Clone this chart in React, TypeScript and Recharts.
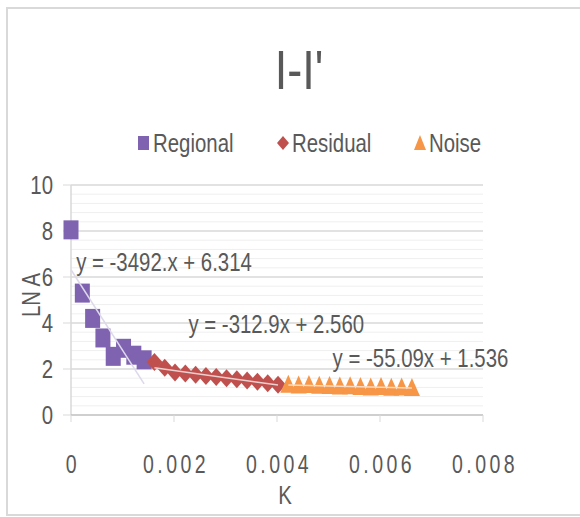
import React from "react";
import {
  ScatterChart,
  Scatter,
  XAxis,
  YAxis,
  ReferenceLine,
} from "recharts";

// ---- data -------------------------------------------------------------
const K_REGIONAL = [0, 0.00022, 0.00042, 0.00062, 0.00082, 0.00102, 0.00122, 0.00142];
const LNA_REGIONAL = [8.05, 5.3, 4.2, 3.35, 2.55, 2.9, 2.6, 2.4];

const K_RESIDUAL = [
  0.00162, 0.00182, 0.00202, 0.00222, 0.00242, 0.00262, 0.00282, 0.00302,
  0.00322, 0.00342, 0.00362, 0.00382, 0.00402,
];
const LNA_RESIDUAL = [2.3, 2.05, 1.85, 1.8, 1.75, 1.7, 1.65, 1.6, 1.55, 1.5, 1.45, 1.38, 1.32];

const K_NOISE = [
  0.00422, 0.00442, 0.00462, 0.00482, 0.00502, 0.00522, 0.00542, 0.00562,
  0.00582, 0.00602, 0.00622, 0.00642, 0.00662,
];
const LNA_NOISE = [1.32, 1.28, 1.3, 1.27, 1.26, 1.24, 1.25, 1.22, 1.2, 1.22, 1.18, 1.2, 1.17];

// linear trendlines y = slope * x + intercept
const TREND_SLOPES = [-3492, -312.9, -55.09];
const TREND_INTERCEPTS = [6.314, 2.56, 1.536];
const EQUATION_TEXT = ["y = -3492.x + 6.314", "y = -312.9x + 2.560", "y = -55.09x + 1.536"];
// anchor (left edge, vertical centre) of each equation, in data units
const EQUATION_K = [0.0001, 0.00228, 0.00508];
const EQUATION_LNA = [6.65, 3.96, 2.48];

const SERIES_NAMES = ["Regional", "Residual", "Noise"];
const SERIES_COLORS = ["#7f63b1", "#c0504d", "#f79646"];
const TREND_COLORS = ["#ddd8ea", "#ead0cf", "#fbdcc4"];

const X_TICKS = [0, 0.002, 0.004, 0.006, 0.008];
const Y_TICKS = [0, 2, 4, 6, 8, 10];
const Y_MINOR = [0.4, 0.8, 1.2, 1.6, 2.4, 2.8, 3.2, 3.6, 4.4, 4.8, 5.2, 5.6, 6.4, 6.8, 7.2, 7.6, 8.4, 8.8, 9.2, 9.6];

// ---- helpers ----------------------------------------------------------
const FONT = '"Liberation Sans", Arial, sans-serif';
const TEXT = "#595959";
const SQUEEZE = 0.85; // horizontal compression for the narrow lettering
const STRETCH = 1.1; // slight vertical stretch of the lettering

const zip = (xs: number[], ys: number[]) => xs.map((x, i) => ({ x, y: ys[i] }));

const regional = zip(K_REGIONAL, LNA_REGIONAL);
const residual = zip(K_RESIDUAL, LNA_RESIDUAL);
const noise = zip(K_NOISE, LNA_NOISE);
const seriesKs = [K_REGIONAL, K_RESIDUAL, K_NOISE];

const trendData = seriesKs.map((ks, i) => {
  const a = ks[0];
  const b = ks[ks.length - 1];
  return [
    { x: a, y: TREND_SLOPES[i] * a + TREND_INTERCEPTS[i] },
    { x: b, y: TREND_SLOPES[i] * b + TREND_INTERCEPTS[i] },
  ];
});

// svg text squeezed horizontally around its anchor point
const NText = ({
  x,
  y,
  children,
  anchor = "start",
  size = 24,
  spacing = 0,
  rotate = 0,
}: any) => (
  <g transform={`translate(${x},${y}) rotate(${rotate}) scale(${SQUEEZE},${STRETCH})`}>
    <text
      x={0}
      y={0}
      textAnchor={anchor}
      dominantBaseline="central"
      fontFamily={FONT}
      fontSize={size}
      letterSpacing={spacing}
      fill={TEXT}
    >
      {children}
    </text>
  </g>
);

const Square = (p: any) => (
  <rect x={p.cx - 7.5} y={p.cy - 9.5} width={15} height={19} fill={SERIES_COLORS[0]} />
);
const Diamond = (p: any) => (
  <path
    d={`M${p.cx},${p.cy - 9} L${p.cx + 8},${p.cy} L${p.cx},${p.cy + 9} L${p.cx - 8},${p.cy} Z`}
    fill={SERIES_COLORS[1]}
  />
);
const Triangle = (p: any) => (
  <path
    d={`M${p.cx},${p.cy - 10} L${p.cx + 8},${p.cy + 8} L${p.cx - 8},${p.cy + 8} Z`}
    fill={SERIES_COLORS[2]}
  />
);
const NoMark = () => <g />;

const EquationText = (p: any) => (
  <NText x={p.cx} y={p.cy} size={24}>
    {p.payload.label}
  </NText>
);

const XTick = (p: any) => (
  <NText x={p.x + 2} y={p.y + 41} anchor="middle" size={23} spacing={4}>
    {String(p.payload.value)}
  </NText>
);

const YTick = (p: any) => (
  <NText x={53} y={p.y} anchor="end" size={24}>
    {String(p.payload.value)}
  </NText>
);

const YLabel = (p: any) => {
  const vb = p.viewBox || {};
  return (
    <NText x={31} y={(vb.y ?? 185) + (vb.height ?? 230) / 2 - 5} anchor="middle" size={24} rotate={-90}>
      LN A
    </NText>
  );
};

const XLabel = (p: any) => {
  const vb = p.viewBox || {};
  return (
    <NText x={285} y={(vb.y ?? 415) + 80} anchor="middle" size={24}>
      K
    </NText>
  );
};

const LegendMark = ({ i }: { i: number }) => {
  if (i === 0) return <rect x={0} y={1} width={11} height={14} fill={SERIES_COLORS[0]} />;
  if (i === 1) return <path d="M6,1 L12,8 L6,15 L0,8 Z" fill={SERIES_COLORS[1]} />;
  return <path d="M6,0 L12,15 L0,15 Z" fill={SERIES_COLORS[2]} />;
};

const LEGEND_LEFT = [138, 277, 414];

export default function App() {
  return (
    <div
      style={{
        position: "absolute",
        left: 0,
        top: 0,
        width: 580,
        height: 517,
        background: "#fff",
        overflow: "hidden",
        fontFamily: FONT,
      }}
    >
      <div
        style={{
          position: "absolute",
          left: 6,
          top: 7,
          width: 600,
          height: 505,
          border: "2px solid #d9d9d9",
        }}
      />
      <div
        style={{
          position: "absolute",
          left: 0,
          width: 598,
          top: 44,
          textAlign: "center",
          fontSize: 50,
          color: TEXT,
          lineHeight: "52px",
        }}
      >
        <span style={{ display: "inline-block", transform: "scale(0.9, 1.1)" }}>I-I'</span>
      </div>
      {SERIES_NAMES.map((name, i) => (
        <div
          key={name}
          style={{
            position: "absolute",
            left: LEGEND_LEFT[i],
            top: 128,
            height: 30,
            display: "flex",
            alignItems: "center",
            fontSize: 24,
            color: TEXT,
            whiteSpace: "nowrap",
          }}
        >
          <svg width={13} height={16} style={{ marginRight: 2 }}>
            <LegendMark i={i} />
          </svg>
          <span
            style={{
              display: "inline-block",
              transform: `scale(${SQUEEZE}, ${STRETCH})`,
              transformOrigin: "left center",
            }}
          >
            {name}
          </span>
        </div>
      ))}
      <div style={{ position: "absolute", left: 0, top: 0 }}>
        <ScatterChart
          width={580}
          height={517}
          margin={{ top: 185, right: 97, bottom: 0, left: 0 }}
        >
          {Y_MINOR.map((v) => (
            <ReferenceLine key={"m" + v} y={v} stroke="#efefef" strokeWidth={1} />
          ))}
          {Y_TICKS.filter((v) => v > 0).map((v) => (
            <ReferenceLine key={"g" + v} y={v} stroke="#d9d9d9" strokeWidth={1.5} />
          ))}
          <ReferenceLine x={0} stroke="#d9d9d9" strokeWidth={1.5} />
          <XAxis
            type="number"
            dataKey="x"
            domain={[0, 0.008]}
            ticks={X_TICKS}
            height={102}
            axisLine={{ stroke: "#bfbfbf", strokeWidth: 1.5 }}
            tickLine={{ stroke: "#d9d9d9" }}
            tickSize={7}
            tick={<XTick />}
            label={<XLabel />}
          />
          <YAxis
            type="number"
            dataKey="y"
            domain={[0, 10]}
            ticks={Y_TICKS}
            width={71}
            axisLine={false}
            tickLine={{ stroke: "#d9d9d9" }}
            tickSize={8}
            tick={<YTick />}
            label={<YLabel />}
          />
          <Scatter data={regional} shape={<Square />} isAnimationActive={false} />
          <Scatter data={residual} shape={<Diamond />} isAnimationActive={false} />
          <Scatter data={noise} shape={<Triangle />} isAnimationActive={false} />
          {trendData.map((d, i) => (
            <Scatter
              key={"t" + i}
              data={d}
              line={{ stroke: TREND_COLORS[i], strokeWidth: 1.5 }}
              shape={<NoMark />}
              isAnimationActive={false}
            />
          ))}
          {EQUATION_TEXT.map((label, i) => (
            <Scatter
              key={"e" + i}
              data={[{ x: EQUATION_K[i], y: EQUATION_LNA[i], label }]}
              shape={<EquationText />}
              isAnimationActive={false}
            />
          ))}
        </ScatterChart>
      </div>
    </div>
  );
}
